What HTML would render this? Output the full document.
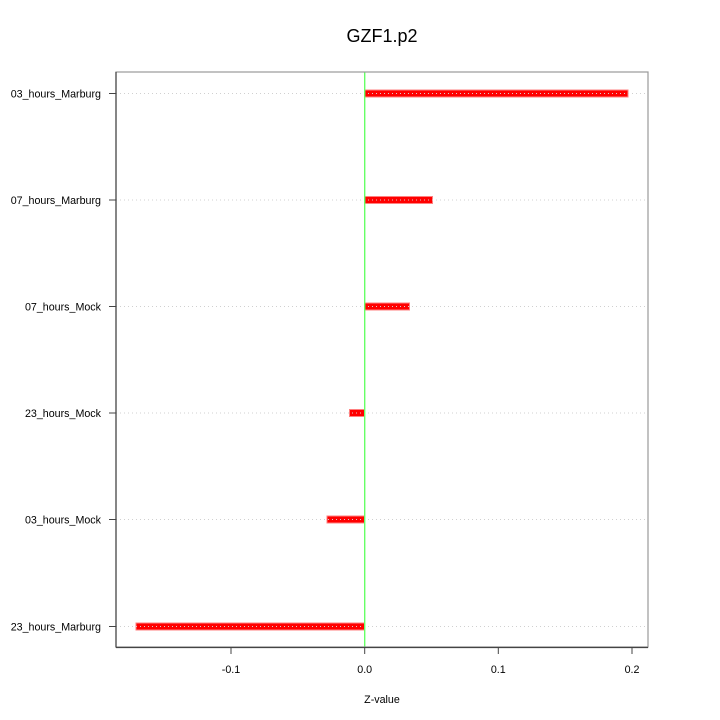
<!DOCTYPE html>
<html><head><meta charset="utf-8"><style>
html,body{margin:0;padding:0;background:#fff;}
svg{display:block;font-family:"Liberation Sans",Arial,sans-serif;}
</style></head><body>
<svg width="720" height="720" viewBox="0 0 720 720" xmlns="http://www.w3.org/2000/svg">
<rect width="720" height="720" fill="#fff"/>
<text x="382" y="42" font-size="18" text-anchor="middle" fill="#000">GZF1.p2</text>
<!-- bars -->
<g fill="#ff0000" stroke="#ff8080" stroke-width="1">
<rect x="364.5" y="90" width="263.5" height="7"/>
<rect x="364.5" y="196.5" width="68" height="7"/>
<rect x="364.5" y="303" width="45" height="7"/>
<rect x="349.5" y="409.5" width="15" height="7"/>
<rect x="327" y="516" width="37.5" height="7"/>
<rect x="136" y="623" width="228.5" height="7"/>
</g>
<!-- grid -->
<g stroke="#d0d0d0" stroke-width="1" stroke-dasharray="1,3">
<line x1="116" y1="93.5" x2="648" y2="93.5"/>
<line x1="116" y1="200" x2="648" y2="200"/>
<line x1="116" y1="306.5" x2="648" y2="306.5"/>
<line x1="116" y1="413" x2="648" y2="413"/>
<line x1="116" y1="519.5" x2="648" y2="519.5"/>
<line x1="116" y1="626.5" x2="648" y2="626.5"/>
</g>
<line x1="364.7" y1="72" x2="364.7" y2="647" stroke="#66ff66" stroke-width="1.4"/>
<!-- box -->
<rect x="116" y="72" width="532" height="575" fill="none" stroke="#999" stroke-width="1.2"/>
<line x1="116" y1="72" x2="116" y2="647.5" stroke="#444" stroke-width="1.2"/>
<line x1="116" y1="647.5" x2="648" y2="647.5" stroke="#444" stroke-width="1.2"/>
<!-- ticks -->
<g stroke="#444" stroke-width="1">
<line x1="109" y1="93.5" x2="116" y2="93.5"/>
<line x1="109" y1="200" x2="116" y2="200"/>
<line x1="109" y1="306.5" x2="116" y2="306.5"/>
<line x1="109" y1="413" x2="116" y2="413"/>
<line x1="109" y1="519.5" x2="116" y2="519.5"/>
<line x1="109" y1="626.5" x2="116" y2="626.5"/>
<line x1="231" y1="647" x2="231" y2="654"/>
<line x1="364.7" y1="647" x2="364.7" y2="654"/>
<line x1="498.3" y1="647" x2="498.3" y2="654"/>
<line x1="632" y1="647" x2="632" y2="654"/>
</g>
<g font-size="10.7" text-anchor="end" fill="#000">
<text x="101" y="97.5">03_hours_Marburg</text>
<text x="101" y="204">07_hours_Marburg</text>
<text x="101" y="310.5">07_hours_Mock</text>
<text x="101" y="417">23_hours_Mock</text>
<text x="101" y="523.5">03_hours_Mock</text>
<text x="101" y="630.5">23_hours_Marburg</text>
</g>
<g font-size="10.7" text-anchor="middle" fill="#000">
<text x="231" y="673">-0.1</text>
<text x="364.7" y="673">0.0</text>
<text x="498.3" y="673">0.1</text>
<text x="632" y="673">0.2</text>
<text x="382" y="703">Z-value</text>
</g>
</svg>
</body></html>
